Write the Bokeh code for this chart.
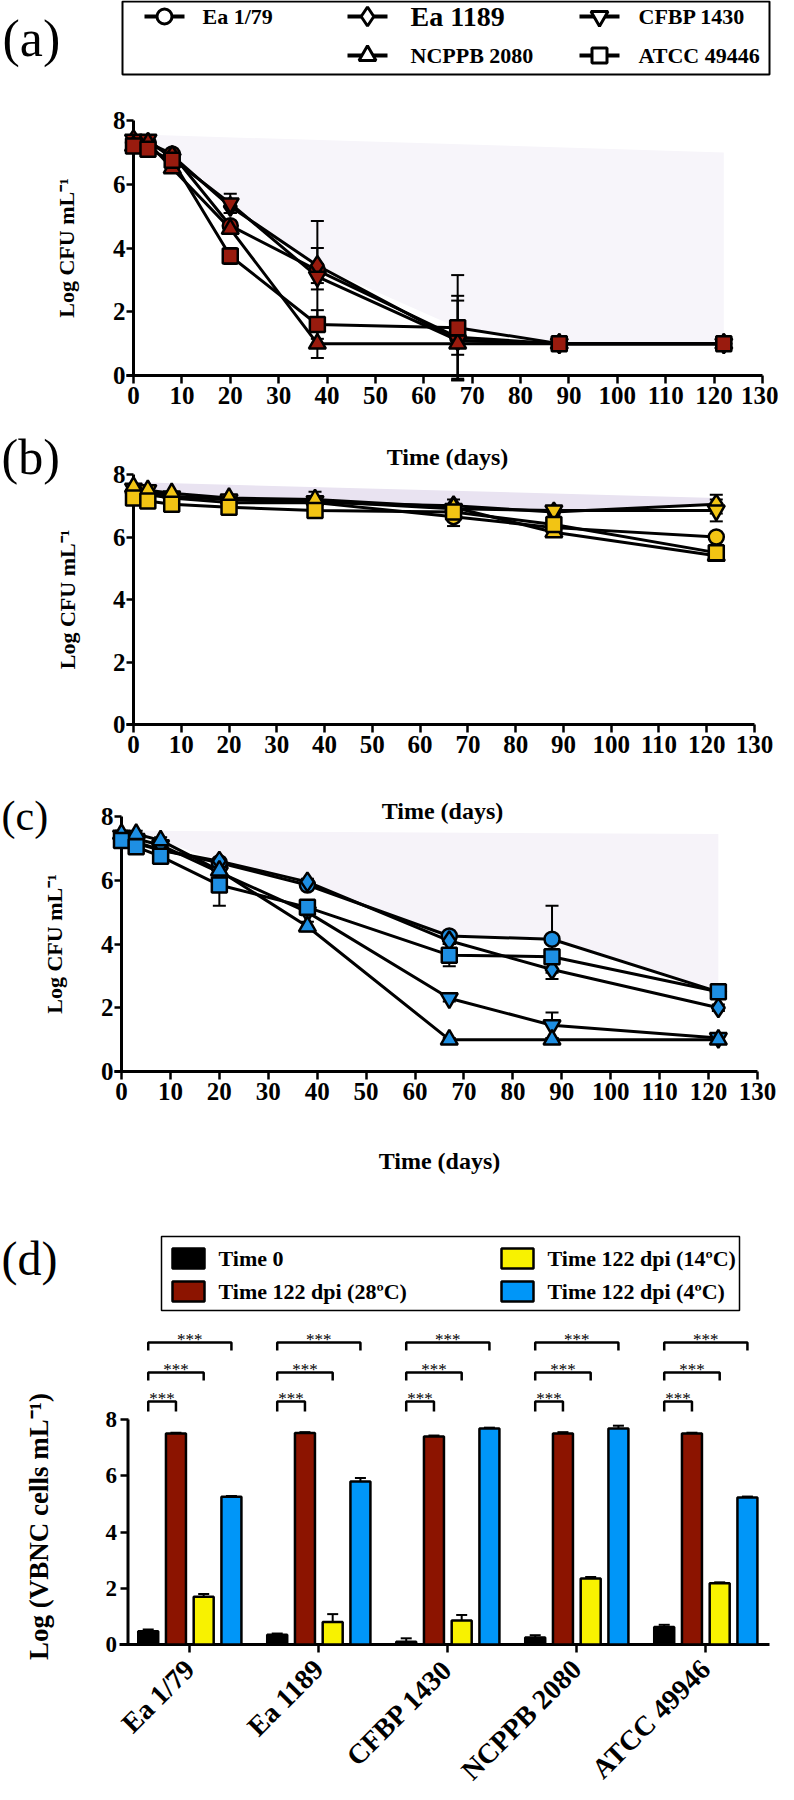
import math
from bokeh.plotting import figure
from bokeh.layouts import column
from bokeh.models import Range1d, FixedTicker
from bokeh.core.properties import value
from bokeh.embed import file_html
from bokeh.resources import INLINE

SERIF = "Liberation Serif"
W = 778

# ---------------- data ----------------
strains = ["Ea 1/79", "Ea 1189", "CFBP 1430", "NCPPB 2080", "ATCC 49446"]
strain_markers = ["circle", "diamond", "inverted_triangle", "triangle", "square"]
days = [0, 3, 8, 20, 38, 67, 88, 122]
x_ticks = list(range(0, 131, 10))
y_ticks = [0, 2, 4, 6, 8]

# panel (a)
a_ea179 = [7.3, 7.3, 6.95, 4.7, 3.3, 1.2, 1.0, 1.0]
a_ea1189 = [7.4, 7.3, 6.9, 5.3, 3.45, 1.1, 1.0, 1.0]
a_cfbp = [7.4, 7.4, 6.8, 5.4, 3.1, 1.1, 1.0, 1.0]
a_ncppb = [7.2, 7.3, 6.5, 4.6, 1.0, 1.0, 1.0, 1.0]
a_atcc = [7.2, 7.1, 6.75, 3.75, 1.6, 1.5, 1.0, 1.0]
a_err_ea179 = [0.1, 0.1, 0.1, 0.15, 1.55, 1.3, 0.0, 0.0]
a_err_ea1189 = [0.1, 0.1, 0.1, 0.2, 0.55, 1.25, 0.0, 0.0]
a_err_cfbp = [0.1, 0.1, 0.1, 0.3, 0.4, 0.45, 0.0, 0.0]
a_err_ncppb = [0.1, 0.1, 0.1, 0.15, 0.45, 0.1, 0.0, 0.0]
a_err_atcc = [0.1, 0.1, 0.1, 0.25, 0.45, 1.65, 0.0, 0.0]

# panel (b)
b_ea179 = [7.4, 7.35, 7.25, 7.1, 7.1, 6.65, 6.3, 6.0]
b_ea1189 = [7.5, 7.45, 7.3, 7.2, 7.1, 7.0, 6.8, 7.05]
b_cfbp = [7.55, 7.5, 7.3, 7.2, 7.15, 6.9, 6.85, 6.85]
b_ncppb = [7.6, 7.5, 7.4, 7.25, 7.2, 6.95, 6.15, 5.4]
b_atcc = [7.25, 7.15, 7.05, 6.95, 6.85, 6.8, 6.4, 5.5]
b_err_ea179 = [0.1, 0.1, 0.05, 0.05, 0.1, 0.3, 0.1, 0.1]
b_err_ea1189 = [0.1, 0.1, 0.05, 0.05, 0.1, 0.2, 0.1, 0.3]
b_err_cfbp = [0.1, 0.1, 0.05, 0.05, 0.1, 0.1, 0.1, 0.35]
b_err_ncppb = [0.1, 0.1, 0.05, 0.05, 0.25, 0.1, 0.1, 0.1]
b_err_atcc = [0.1, 0.1, 0.05, 0.1, 0.1, 0.1, 0.1, 0.1]

# panel (c)
c_ea179 = [7.3, 7.15, 6.95, 6.55, 5.85, 4.25, 4.15, 2.5]
c_ea1189 = [7.35, 7.2, 6.95, 6.6, 5.95, 4.1, 3.2, 2.0]
c_cfbp = [7.4, 7.3, 7.1, 6.25, 5.0, 2.3, 1.45, 1.05]
c_ncppb = [7.45, 7.45, 7.25, 6.3, 4.55, 1.0, 1.0, 1.0]
c_atcc = [7.25, 7.05, 6.75, 5.85, 5.15, 3.65, 3.6, 2.5]
c_err_ea179 = [0.1, 0.1, 0.1, 0.1, 0.1, 0.1, 1.05, 0.1]
c_err_ea1189 = [0.1, 0.1, 0.1, 0.1, 0.1, 0.1, 0.3, 0.1]
c_err_cfbp = [0.1, 0.1, 0.1, 0.1, 0.1, 0.1, 0.4, 0.1]
c_err_ncppb = [0.1, 0.1, 0.1, 0.1, 0.15, 0.05, 0.05, 0.05]
c_err_atcc = [0.1, 0.1, 0.1, 0.65, 0.2, 0.35, 0.2, 0.15]

# shaded background regions (x ends, top edge values)
shade_a_x = [3, 122]
shade_a_top = [7.55, 7.0]
shade_b_x = [1, 122]
shade_b_top = [7.75, 7.25]
shade_c_x = [3, 122]
shade_c_top = [7.55, 7.45]

# panel (d)
bar_strains = ["Ea 1/79", "Ea 1189", "CFBP 1430", "NCPPB 2080", "ATCC 49946"]
bar_legend = ["Time 0", "Time 122 dpi (28\u00baC)", "Time 122 dpi (14\u00baC)", "Time 122 dpi (4\u00baC)"]
bar_t0 = [0.47, 0.35, 0.1, 0.25, 0.62]
bar_28 = [7.5, 7.52, 7.4, 7.5, 7.5]
bar_14 = [1.7, 0.8, 0.85, 2.35, 2.18]
bar_4 = [5.25, 5.8, 7.68, 7.68, 5.23]
err_t0 = [0.06, 0.04, 0.12, 0.08, 0.08]
err_28 = [0.03, 0.03, 0.03, 0.05, 0.03]
err_14 = [0.1, 0.28, 0.2, 0.05, 0.03]
err_4 = [0.03, 0.12, 0.03, 0.1, 0.03]
sig_label = "***"

COL_A = "#991b0e"
COL_B = "#f2c414"
COL_C = "#1e8fe3"
BAR_COLORS = ["#000000", "#8c1400", "#f8f200", "#0096f8"]
Y_TITLE = "Log CFU mL\u207b\u00b9"
X_TITLE = "Time (days)"


def clean(p):
    p.outline_line_color = None
    p.background_fill_color = "white"
    p.border_fill_color = "white"
    for g in p.grid:
        g.grid_line_color = None


def make_fig(top, bot, X, Y):
    # figure covering page rows [top, bot] (reference pixels); frame = whole canvas
    p = figure(width=W, height=bot - top,
               x_range=Range1d(X(8), X(786)), y_range=Range1d(Y(bot), Y(top)),
               min_border=0, output_backend="svg", toolbar_location=None)
    clean(p)
    return p


def style_axis(ax, size):
    ax.major_label_text_font = SERIF
    ax.major_label_text_font_style = "bold"
    ax.major_label_text_font_size = size
    ax.major_label_text_color = "black"
    ax.major_tick_line_width = 2.5
    ax.major_tick_line_color = "black"
    ax.minor_tick_line_color = None
    ax.axis_line_color = None


def txt(p, x, y, s, size, bold=True, align="center", angle=0.0, baseline="middle"):
    p.text(x=[x], y=[y], text=[s], text_font=value(SERIF), text_font_size=size,
           text_font_style="bold" if bold else "normal", text_align=align,
           text_baseline=baseline, angle=angle, text_color="black")


def line_panel(top, bot, f_top, f_bot, ax0, ax130, vals, errs, color,
               shade_x, shade_top, shade_color, title_x):
    k = (ax130 - ax0) / 130.0
    ppu = (f_bot - f_top) / 8.0

    def X(rx):
        return (rx - ax0) / k

    def Y(ry):
        return (f_bot - ry) / ppu

    p = make_fig(top, bot, X, Y)
    p.xaxis.ticker = FixedTicker(ticks=x_ticks)
    p.yaxis.ticker = FixedTicker(ticks=y_ticks)
    p.xaxis.fixed_location = 0
    p.yaxis.fixed_location = 0
    style_axis(p.xaxis[0], "25px")
    style_axis(p.yaxis[0], "25px")
    p.yaxis.major_tick_out = 7
    p.yaxis.major_tick_in = 0
    p.yaxis.major_label_standoff = 1
    p.xaxis.major_tick_out = 8
    p.xaxis.major_tick_in = 0
    p.xaxis.major_label_standoff = 3

    # shaded region above the curves
    env = [max(v[i] for v in vals) for i in range(len(days))]
    inside = [i for i in range(len(days)) if shade_x[0] <= days[i] <= shade_x[1]]
    sx = [shade_x[0], shade_x[1]] + [days[i] for i in reversed(inside)]
    sy = [shade_top[0], shade_top[1]] + [env[i] for i in reversed(inside)]
    p.patch(sx, sy, fill_color=shade_color, line_color=None)

    # axis lines
    p.segment(x0=[0], y0=[0], x1=[0], y1=[8], line_color="black", line_width=3)
    p.segment(x0=[X(ax0 - 7)], y0=[0], x1=[130], y1=[0], line_color="black", line_width=3)

    for v, e in zip(vals, errs):
        lo = [a - b for a, b in zip(v, e)]
        hi = [a + b for a, b in zip(v, e)]
        p.segment(x0=days, y0=lo, x1=days, y1=hi, line_color="black", line_width=2)
        p.scatter(days, hi, marker="dash", size=13, line_color="black", line_width=2)
        p.scatter(days, lo, marker="dash", size=13, line_color="black", line_width=2)
    for v in vals:
        p.line(days, v, line_color="black", line_width=3)
    sizes = {"circle": 15, "diamond": 19, "inverted_triangle": 17, "triangle": 17, "square": 15}
    for v, m in zip(vals, strain_markers):
        p.scatter(days, v, marker=m, size=sizes[m], fill_color=color,
                  line_color="black", line_width=2.5)

    txt(p, X(title_x), 4, Y_TITLE, "22px", angle=math.pi / 2)
    return p, X, Y


# ---------------- header: (a) and legend ----------------
ph = figure(width=W, height=92, x_range=Range1d(8, 786), y_range=Range1d(100, 8),
            min_border=0, x_axis_type=None, y_axis_type=None,
            output_backend="svg", toolbar_location=None)
clean(ph)
txt(ph, 10, 46, "(a)", "52px", bold=False, align="left")
ph.quad(left=[130], right=[777], top=[9], bottom=[82], fill_color=None,
        line_color="black", line_width=2)
leg_cx = [172, 375, 607, 375, 607]
leg_cy = [24, 24, 24, 63, 63]
leg_tx = [210, 418, 646, 418, 646]
leg_fs = ["22px", "28px", "22px", "22px", "22px"]
leg_ms = {"circle": 15, "diamond": 19, "inverted_triangle": 17, "triangle": 17, "square": 15}
for name, m, cx, cy, tx, fs in zip(strains, strain_markers, leg_cx, leg_cy, leg_tx, leg_fs):
    ph.segment(x0=[cx - 20], y0=[cy], x1=[cx + 20], y1=[cy], line_color="black", line_width=4)
    ph.scatter([cx], [cy], marker=m, size=leg_ms[m], fill_color="white",
               line_color="black", line_width=3)
    txt(ph, tx, cy, name, fs, align="left")

# ---------------- panels a, b, c ----------------
vals_a = [a_ea179, a_ea1189, a_cfbp, a_ncppb, a_atcc]
errs_a = [a_err_ea179, a_err_ea1189, a_err_cfbp, a_err_ncppb, a_err_atcc]
vals_b = [b_ea179, b_ea1189, b_cfbp, b_ncppb, b_atcc]
errs_b = [b_err_ea179, b_err_ea1189, b_err_cfbp, b_err_ncppb, b_err_atcc]
vals_c = [c_ea179, c_ea1189, c_cfbp, c_ncppb, c_atcc]
errs_c = [c_err_ea179, c_err_ea1189, c_err_cfbp, c_err_ncppb, c_err_atcc]

pA, XA, YA = line_panel(100, 436, 128, 383, 141, 770, vals_a, errs_a, COL_A,
                        shade_a_x, shade_a_top, "#f7f5fa", 74)
pB, XB, YB = line_panel(436, 800, 482, 732, 141, 762, vals_b, errs_b, COL_B,
                        shade_b_x, shade_b_top, "#e9e3f1", 75)
pC, XC, YC = line_panel(800, 1185, 824, 1079, 129, 765, vals_c, errs_c, COL_C,
                        shade_c_x, shade_c_top, "#f6f3f9", 62)

# x-axis titles / panel letters
txt(pB, XB(455), YB(464), X_TITLE, "24px")          # title of panel (a)
txt(pB, XB(9), YB(464), "(b)", "50px", bold=False, align="left")
txt(pC, XC(450), YC(818), X_TITLE, "24px")          # title of panel (b)
txt(pC, XC(9), YC(823), "(c)", "42px", bold=False, align="left")
txt(pC, XC(447), YC(1168), X_TITLE, "24px")         # title of panel (c)

# ---------------- panel d ----------------
GX0, GDX = 197.0, 129.0           # pixel centre of first group, group pitch
YPX = 225.0 / 8.0                 # pixels per log unit
D_Y0 = 1652


def XD(rx):
    return (rx - GX0) / GDX


def YD(ry):
    return (D_Y0 - ry) / YPX


pD = make_fig(1185, 1800, XD, YD)
pD.yaxis.ticker = FixedTicker(ticks=y_ticks)
pD.xaxis.ticker = FixedTicker(ticks=list(range(len(bar_strains))))
pD.xaxis.major_label_overrides = {i: s for i, s in enumerate(bar_strains)}
pD.xaxis.major_label_orientation = math.pi / 4
pD.xaxis.fixed_location = 0
pD.yaxis.fixed_location = XD(135.5)
style_axis(pD.xaxis[0], "28px")
style_axis(pD.yaxis[0], "23px")
for ax in (pD.xaxis[0], pD.yaxis[0]):
    ax.major_tick_out = 8
    ax.major_tick_in = 0
pD.yaxis.major_label_standoff = 3
pD.xaxis.major_label_standoff = 12

pD.segment(x0=[XD(135.5)], y0=[0], x1=[XD(135.5)], y1=[8], line_color="black", line_width=3)
pD.segment(x0=[XD(127)], y0=[0], x1=[XD(777)], y1=[0], line_color="black", line_width=3)

offsets = [-0.32, -0.105, 0.11, 0.325]
bw = 0.155
series_d = [bar_t0, bar_28, bar_14, bar_4]
errs_d = [err_t0, err_28, err_14, err_4]
for off, vals, errs, col in zip(offsets, series_d, errs_d, BAR_COLORS):
    xs = [i + off for i in range(len(bar_strains))]
    hi = [v + e for v, e in zip(vals, errs)]
    pD.segment(x0=xs, y0=vals, x1=xs, y1=hi, line_color="black", line_width=2)
    pD.scatter(xs, hi, marker="dash", size=11, line_color="black", line_width=2)
    pD.vbar(x=xs, top=vals, bottom=0, width=bw, fill_color=col, line_color="black", line_width=2.5)

# significance brackets
br_top = [YD(1409), YD(1380), YD(1350)]
br_leg = [YD(1419), YD(1388), YD(1358)]
for i in range(len(bar_strains)):
    xb = i + offsets[0]
    for j in range(3):
        xe = i + offsets[j + 1]
        pD.multi_line(xs=[[xb, xb, xe, xe]], ys=[[br_leg[j], br_top[j], br_top[j], br_leg[j]]],
                      line_color="black", line_width=2.5)
        txt(pD, (xb + xe) / 2, br_top[j] + 0.1, sig_label, "17px", bold=False,
            baseline="alphabetic")

# legend (d)
pD.quad(left=[XD(169)], right=[XD(747)], top=[YD(1244)], bottom=[YD(1318)],
        fill_color=None, line_color="black", line_width=1.5)
leg_d_sx = [180, 180, 509, 509]
leg_d_sy = [1266, 1299, 1266, 1299]
for name, col, sx, sy in zip(bar_legend, BAR_COLORS, leg_d_sx, leg_d_sy):
    pD.quad(left=[XD(sx)], right=[XD(sx + 32)], top=[YD(sy - 10)], bottom=[YD(sy + 10)],
            fill_color=col, line_color="black", line_width=2.5)
    txt(pD, XD(sx + 46), YD(sy), name, "22px", align="left")

txt(pD, XD(9), YD(1266), "(d)", "48px", bold=False, align="left")
txt(pD, XD(46), YD(1534), "Log (VBNC cells mL\u207b\u00b9)", "27px", angle=math.pi / 2)

layout = column(ph, pA, pB, pC, pD)
open("out.html", "w").write(file_html(layout, INLINE))
